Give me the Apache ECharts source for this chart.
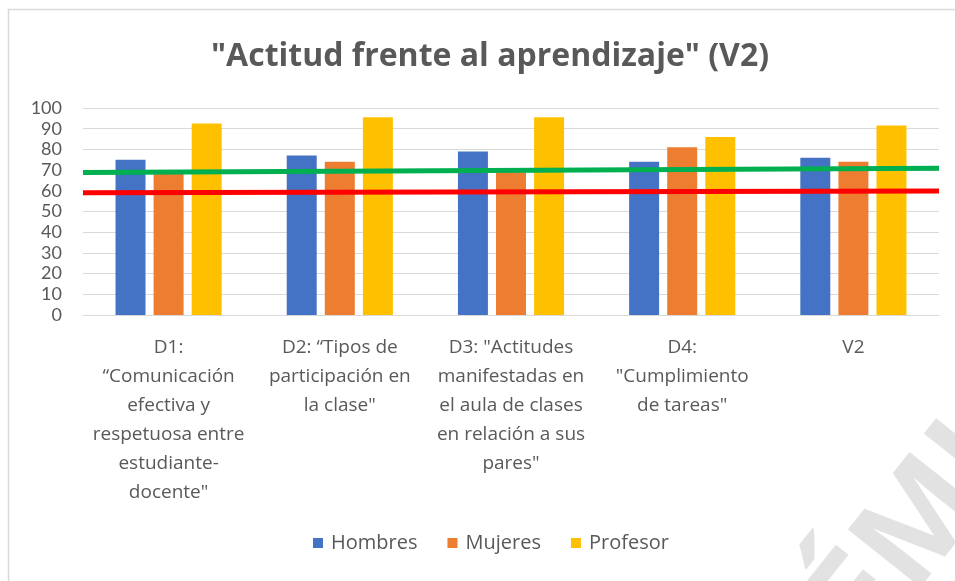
<!DOCTYPE html>
<html>
<head>
<meta charset="utf-8">
<script src="https://cdn.jsdelivr.net/npm/echarts@6/dist/echarts.min.js"></script>
<style>html,body{margin:0;padding:0;background:#fff}#c{width:955px;height:581px}</style>
</head>
<body>
<div id="c"></div>
<script>
const categories = [
  'D1:\n“Comunicación\nefectiva y\nrespetuosa entre\nestudiante-\ndocente"',
  'D2: “Tipos de\nparticipación en\nla clase"',
  'D3: "Actitudes\nmanifestadas en\nel aula de clases\nen relación a sus\npares"',
  'D4:\n"Cumplimiento\nde tareas"',
  'V2'
];
const hombres = [75, 77, 79, 74, 76];
const mujeres = [69, 74, 69, 81, 74];
const profesor = [92.5, 95.5, 95.5, 86, 91.5];
const greenLine = [[0, 68.8], [1, 70.9]];
const redLine = [[0, 59.1], [1, 59.9]];
const yTicks = { min: 0, max: 100, interval: 10 };

const FONT = 'Open Sans';
const chart = echarts.init(document.getElementById('c'));
chart.setOption({
  animation: false,
  backgroundColor: '#ffffff',
  title: {
    text: '"Actitud frente al aprendizaje" (V2)',
    left: 206, top: 36,
    textStyle: { fontFamily: FONT, fontWeight: 'bold', fontSize: 32, color: '#595959' }
  },
  legend: {
    bottom: 23, left: 308,
    itemWidth: 10, itemHeight: 10, itemGap: 30,
    icon: 'rect',
    data: ['Hombres', 'Mujeres', 'Profesor'],
    textStyle: { fontFamily: FONT, fontSize: 20, color: '#595959', padding: [0, 0, 0, 3] }
  },
  grid: { left: 83, right: 16, top: 108, bottom: 266, containLabel: false },
  xAxis: [
    {
      type: 'category', data: categories,
      axisTick: { show: false },
      axisLine: { lineStyle: { color: '#d9d9d9' } },
      axisLabel: { interval: 0, fontFamily: FONT, fontSize: 19, color: '#595959', lineHeight: 29, margin: 18 }
    },
    { type: 'value', min: 0, max: 1, show: false }
  ],
  yAxis: {
    type: 'value', min: yTicks.min, max: yTicks.max, interval: yTicks.interval,
    axisLine: { show: false }, axisTick: { show: false },
    splitLine: { lineStyle: { color: '#d9d9d9', width: 1 } },
    axisLabel: { fontFamily: 'Lato', fontSize: 18, color: '#595959', margin: 21 }
  },
  graphic: [
    { type: 'rect', shape: { x: 8.5, y: 9.5, width: 960, height: 600 }, style: { fill: 'none', stroke: '#d9d9d9', lineWidth: 1.5 }, silent: true, z: -1 },
    { type: 'text', x: 788, y: 590, rotation: 0.9, style: { text: 'ÉMI', fontFamily: 'Open Sans', fontWeight: 'bold', fontSize: 130, fill: '#e2e2e2' }, z: -1 }
  ],
  series: [
    { name: 'Hombres', type: 'bar', data: hombres, barGap: '27%', barCategoryGap: '38%', itemStyle: { color: '#4472c4' } },
    { name: 'Mujeres', type: 'bar', data: mujeres, itemStyle: { color: '#ed7d31' } },
    { name: 'Profesor', type: 'bar', data: profesor, itemStyle: { color: '#ffc000' } },
    { name: 'green', type: 'line', xAxisIndex: 1, data: greenLine, symbol: 'none', lineStyle: { color: '#00b050', width: 5 }, z: 5 },
    { name: 'red', type: 'line', xAxisIndex: 1, data: redLine, symbol: 'none', lineStyle: { color: '#ff0000', width: 5 }, z: 5 }
  ]
});
</script>
</body>
</html>
